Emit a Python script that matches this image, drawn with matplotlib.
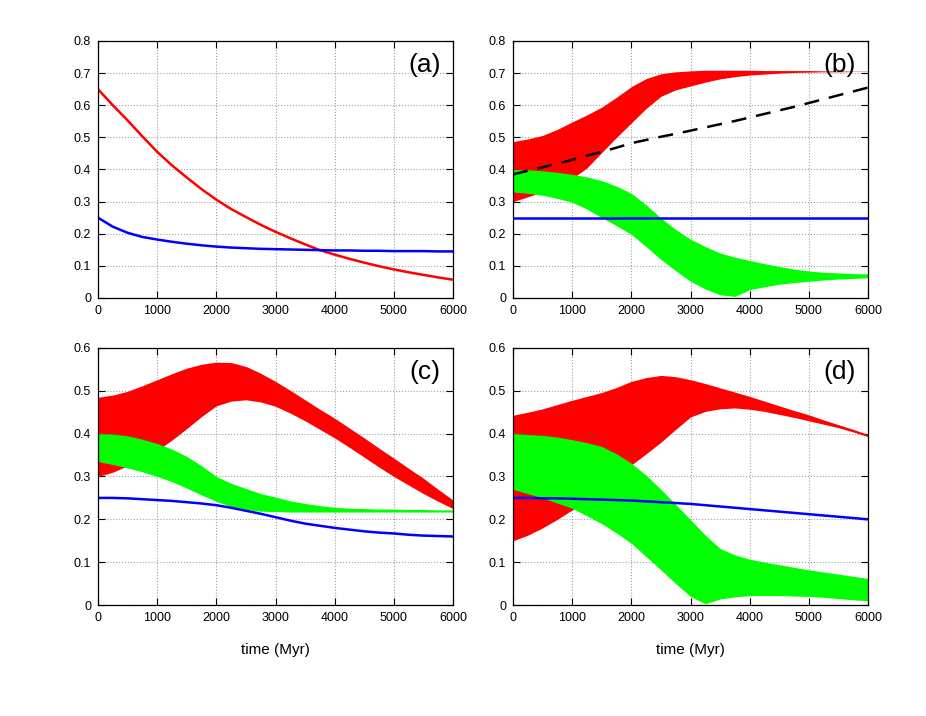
import matplotlib.pyplot as plt
from matplotlib.ticker import FuncFormatter

# time grid (Myr), every 250
t = list(range(0, 6001, 250))

# panel (a)
a_red = [0.65, 0.60, 0.553, 0.503, 0.455, 0.413, 0.375, 0.339, 0.306, 0.277, 0.252, 0.228, 0.206,
         0.186, 0.167, 0.149, 0.135, 0.122, 0.11, 0.099, 0.089, 0.08, 0.072, 0.064, 0.057]
a_blue = [0.25, 0.222, 0.203, 0.19, 0.182, 0.175, 0.169, 0.164, 0.16, 0.157, 0.155, 0.153, 0.152,
          0.151, 0.15, 0.149, 0.148, 0.148, 0.147, 0.147, 0.146, 0.146, 0.146, 0.145, 0.145]

# panel (b)
b_red_hi = [0.487, 0.495, 0.506, 0.525, 0.548, 0.57, 0.594, 0.625, 0.658, 0.683, 0.698, 0.704, 0.707,
            0.709, 0.709, 0.709, 0.709, 0.708, 0.708, 0.708, 0.708, 0.707, 0.707, 0.706, 0.706]
b_red_lo = [0.30, 0.315, 0.33, 0.35, 0.372, 0.405, 0.453, 0.50, 0.545, 0.59, 0.628, 0.648, 0.66,
            0.672, 0.682, 0.689, 0.694, 0.697, 0.70, 0.702, 0.703, 0.704, 0.704, 0.705, 0.705]
b_green_hi = [0.40, 0.399, 0.396, 0.391, 0.385, 0.377, 0.365, 0.348, 0.326, 0.29, 0.249, 0.213, 0.183,
              0.16, 0.14, 0.127, 0.117, 0.107, 0.098, 0.09, 0.084, 0.08, 0.078, 0.076, 0.075]
b_green_lo = [0.33, 0.326, 0.32, 0.31, 0.298, 0.277, 0.25, 0.225, 0.198, 0.16, 0.12, 0.085, 0.052,
              0.028, 0.01, 0.005, 0.026, 0.035, 0.043, 0.048, 0.052, 0.056, 0.059, 0.061, 0.063]
b_dash = [0.385, 0.396, 0.407, 0.418, 0.43, 0.443, 0.455, 0.468, 0.482, 0.492, 0.502, 0.511, 0.521,
          0.531, 0.541, 0.551, 0.562, 0.573, 0.584, 0.595, 0.607, 0.619, 0.631, 0.643, 0.655]
b_blue = [0.25] * 25

# panel (c)
c_red_hi = [0.485, 0.49, 0.499, 0.512, 0.526, 0.54, 0.553, 0.562, 0.567, 0.566, 0.557, 0.541, 0.522,
            0.501, 0.479, 0.457, 0.436, 0.413, 0.39, 0.366, 0.343, 0.319, 0.296, 0.27, 0.245]
c_red_lo = [0.30, 0.31, 0.325, 0.341, 0.361, 0.385, 0.412, 0.44, 0.465, 0.476, 0.479, 0.474, 0.464,
            0.448, 0.43, 0.41, 0.39, 0.368, 0.345, 0.322, 0.30, 0.28, 0.26, 0.242, 0.225]
c_green_hi = [0.40, 0.399, 0.395, 0.387, 0.377, 0.364, 0.347, 0.325, 0.30, 0.284, 0.272, 0.26, 0.252,
              0.243, 0.237, 0.232, 0.228, 0.226, 0.225, 0.224, 0.224, 0.223, 0.223, 0.222, 0.222]
c_green_lo = [0.335, 0.328, 0.32, 0.311, 0.30, 0.288, 0.273, 0.257, 0.242, 0.23, 0.223, 0.219, 0.218,
              0.217, 0.217, 0.217, 0.217, 0.217, 0.217, 0.217, 0.217, 0.217, 0.217, 0.217, 0.217]
c_blue = [0.25, 0.25, 0.249, 0.247, 0.245, 0.243, 0.24, 0.237, 0.233, 0.227, 0.22, 0.213, 0.205,
          0.197, 0.19, 0.185, 0.18, 0.176, 0.172, 0.169, 0.167, 0.164, 0.162, 0.161, 0.16]

# panel (d)
d_red_hi = [0.443, 0.45, 0.458, 0.468, 0.478, 0.487, 0.496, 0.508, 0.522, 0.531, 0.536, 0.533, 0.526,
            0.517, 0.507, 0.497, 0.487, 0.476, 0.465, 0.454, 0.444, 0.432, 0.421, 0.41, 0.398]
d_red_lo = [0.15, 0.163, 0.18, 0.2, 0.222, 0.245, 0.27, 0.298, 0.327, 0.353, 0.38, 0.41, 0.439,
            0.452, 0.458, 0.46, 0.457, 0.452, 0.445, 0.438, 0.43, 0.422, 0.414, 0.404, 0.393]
d_green_hi = [0.40, 0.398, 0.396, 0.392, 0.386, 0.379, 0.37, 0.353, 0.331, 0.303, 0.27, 0.235, 0.199,
              0.163, 0.132, 0.117, 0.107, 0.1, 0.094, 0.088, 0.082, 0.077, 0.072, 0.067, 0.062]
d_green_lo = [0.27, 0.26, 0.25, 0.238, 0.226, 0.208, 0.19, 0.168, 0.144, 0.113, 0.082, 0.05, 0.02,
              0.003, 0.014, 0.019, 0.022, 0.022, 0.022, 0.021, 0.02, 0.018, 0.015, 0.012, 0.01]
d_blue = [0.25, 0.25, 0.249, 0.249, 0.248, 0.247, 0.246, 0.245, 0.244, 0.242, 0.24, 0.238, 0.236,
          0.233, 0.23, 0.227, 0.224, 0.221, 0.218, 0.215, 0.212, 0.209, 0.206, 0.203, 0.20]

fig = plt.figure(figsize=(9.26, 7.16), dpi=100)
plt.rcParams['font.family'] = ['Liberation Sans', 'DejaVu Sans']

W = 355 / 926
H = 257 / 716
axa = fig.add_axes([98 / 926, 1 - 298 / 716, W, H])
axb = fig.add_axes([513 / 926, 1 - 298 / 716, W, H])
axc = fig.add_axes([98 / 926, 1 - 605 / 716, W, H])
axd = fig.add_axes([513 / 926, 1 - 605 / 716, W, H])

fmt = FuncFormatter(lambda v, p: '0' if abs(v) < 1e-9 else ('%g' % v))


def style(ax, ymax, label):
    ax.set_xlim(0, 6000)
    ax.set_ylim(0, ymax)
    ax.set_xticks(range(0, 6001, 1000))
    ax.set_yticks([i / 10 for i in range(int(round(ymax * 10)) + 1)])
    ax.yaxis.set_major_formatter(fmt)
    ax.tick_params(direction='in', top=True, right=True, labelsize=9, length=5, width=0.8, pad=5)
    ax.grid(True, color='#a0a0a0', linestyle=':', linewidth=0.8)
    ax.set_axisbelow(True)
    for s in ax.spines.values():
        s.set_linewidth(0.9)
    ax.text(0.92, 0.905, label, transform=ax.transAxes, fontsize=19, ha='center', va='center')


# (a)
axa.plot(t, a_red, color='#ff0000', lw=1.8)
axa.plot(t, a_blue, color='#0000ff', lw=1.8)
style(axa, 0.8, '(a)')

# (b)
axb.fill_between(t, b_red_lo, b_red_hi, color='#ff0000', lw=0)
axb.fill_between(t, b_green_lo, b_green_hi, color='#00ff00', lw=0)
axb.plot(t, b_blue, color='#0000ff', lw=1.8)
axb.plot(t, b_dash, color='black', lw=1.8, dashes=(6, 4))
style(axb, 0.8, '(b)')

# (c)
axc.fill_between(t, c_red_lo, c_red_hi, color='#ff0000', lw=0)
axc.fill_between(t, c_green_lo, c_green_hi, color='#00ff00', lw=0)
axc.plot(t, c_blue, color='#0000ff', lw=1.8)
style(axc, 0.6, '(c)')
axc.set_xlabel('time (Myr)', fontsize=11, labelpad=14)

# (d)
axd.fill_between(t, d_red_lo, d_red_hi, color='#ff0000', lw=0)
axd.fill_between(t, d_green_lo, d_green_hi, color='#00ff00', lw=0)
axd.plot(t, d_blue, color='#0000ff', lw=1.8)
style(axd, 0.6, '(d)')
axd.set_xlabel('time (Myr)', fontsize=11, labelpad=14)

fig.savefig('out.png', dpi=100)
